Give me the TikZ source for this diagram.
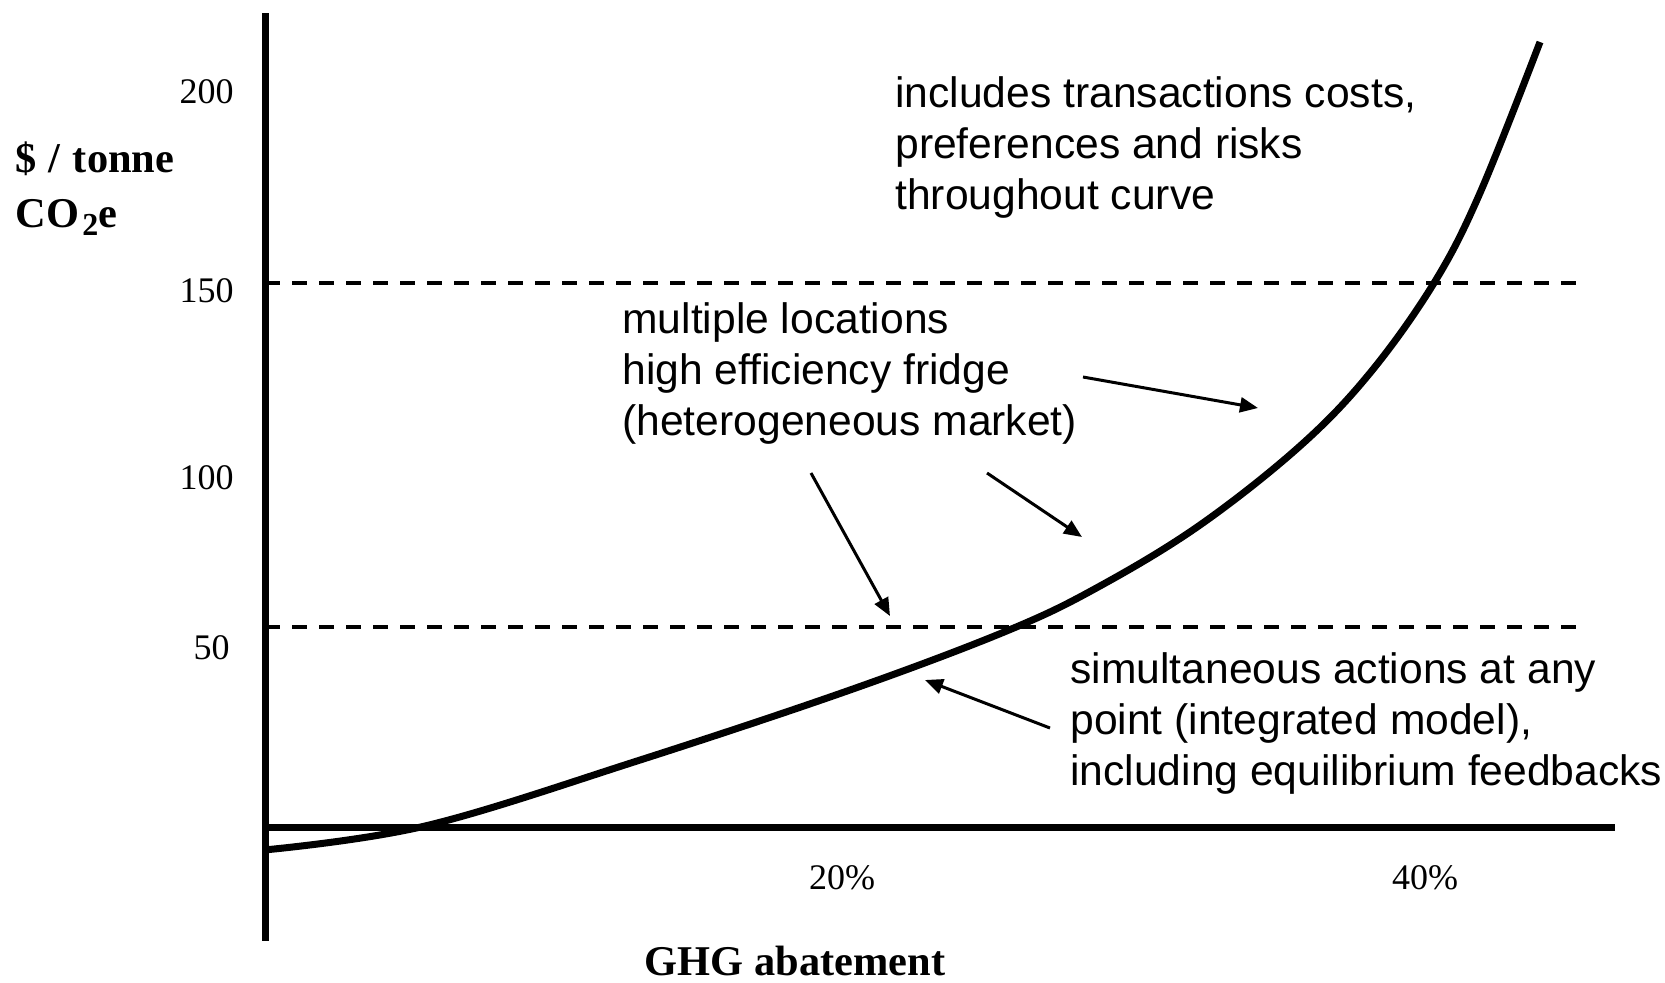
\documentclass[tikz,border=0pt]{standalone}
\usepackage{fontspec}
\setmainfont{Liberation Serif}
\newfontfamily\notefont{Liberation Sans}
\usetikzlibrary{arrows.meta}

\tikzset{
	axisline/.style={line width=3.5pt},
	levelline/.style={line width=2pt, dash pattern=on 7.5pt off 6pt},
	costcurve/.style={line width=3.5pt, line join=round},
	note/.style={font=\notefont\fontsize{21.3}{25.5}\selectfont, align=left, inner sep=0pt},
	pointer/.style={line width=1.5pt, -{Triangle[length=9pt,width=7.5pt]}},
	ticklabel/.style={font=\fontsize{18}{20}\selectfont, inner sep=0pt},
	axislabel/.style={font=\bfseries\fontsize{21.2}{24}\selectfont, inner sep=0pt}
}

\begin{document}
\begin{tikzpicture}[x=0.5pt, y=-0.5pt]
		\useasboundingbox (0,0) rectangle (1665,982);
		
		% axes
		\coordinate (ytop) at (265,13);
		\coordinate (ybot) at (265,941);
		\coordinate (xleft) at (265,827);
		\coordinate (xright) at (1615,827);
		\draw[axisline] (ytop) -- (ybot);
		\draw[axisline] (xleft) -- (xright);
		
		% levels 150 and 50
		\coordinate (hiL) at (265,283);
		\coordinate (hiR) at (1585,283);
		\coordinate (loL) at (265,627);
		\coordinate (loR) at (1585,627);
		\draw[levelline] (hiL) -- (hiR);
		\draw[levelline] (loL) -- (loR);
		
		% tick labels
		\node[ticklabel, anchor=east] (y200) at (234,92) {200};
		\node[ticklabel, anchor=east] (y150) at (234,291) {150};
		\node[ticklabel, anchor=east] (y100) at (234,478) {100};
		\node[ticklabel, anchor=east] (y50) at (230,648) {50};
		\node[ticklabel] (x20) at (842,878) {20\%};
		\node[ticklabel] (x40) at (1425,878) {40\%};
		
		% axis titles
		\node[axislabel, anchor=base west] (ylabel) at (15,172) {\$\hspace{0.04em} /\hspace{0.04em} tonne};
		\node[axislabel, anchor=base west] (ylabelb) at (15,227) {CO\hspace{0.08em}\raisebox{-0.45ex}{\fontsize{16}{16}\selectfont 2}e};
		\node[axislabel, anchor=base] (xlabel) at (795,975) {GHG abatement};
		
		% abatement cost curve
		\draw[costcurve] plot[smooth, tension=0.6] coordinates {(264,850) (425,826) (637,761) (850,690) (1009,630) (1100,586) (1200,525) (1300,446) (1370,373) (1434,283) (1480,193) (1540,42)};
		
		% notes (anchored at last line)
		\node[note, anchor=base west] (noteCosts) at (895,209) {includes transactions costs,\\preferences and risks\\throughout curve};
		\node[note, anchor=base west] (noteFridge) at (622,435) {multiple locations\\high efficiency fridge\\(heterogeneous market)};
		\node[note, anchor=base west] (noteSimul) at (1070,785) {simultaneous actions at any\\point (integrated model),\\including equilibrium feedbacks};
		
		% pointers
		\coordinate (fridgeA) at (1083,377);
		\coordinate (fridgeAtip) at (1258,408);
		\coordinate (fridgeB) at (987,473);
		\coordinate (fridgeBtip) at (1082,537);
		\coordinate (fridgeC) at (811,473);
		\coordinate (fridgeCtip) at (890,616);
		\coordinate (simul) at (1050,728);
		\coordinate (simultip) at (925,680);
		\draw[pointer] (fridgeA) -- (fridgeAtip);
		\draw[pointer] (fridgeB) -- (fridgeBtip);
		\draw[pointer] (fridgeC) -- (fridgeCtip);
		\draw[pointer] (simul) -- (simultip);
		
	\end{tikzpicture}
\end{document}
